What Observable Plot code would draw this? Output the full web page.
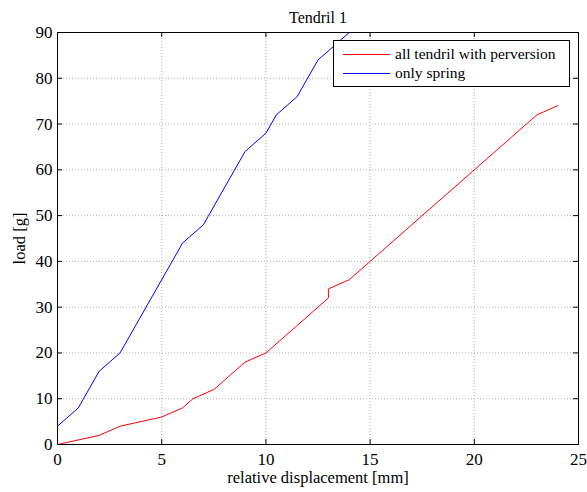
<!DOCTYPE html>
<html>
<head>
<meta charset="utf-8">
<script src="https://cdn.jsdelivr.net/npm/d3@7"></script>
<script src="https://cdn.jsdelivr.net/npm/@observablehq/plot@0.6"></script>
<style>
  html, body { margin: 0; padding: 0; background: #fff; }
  #wrap { position: relative; width: 587px; height: 492px; font-family: 'Liberation Serif', 'DejaVu Serif', serif; }
  #chart svg, #chart svg text { font-family: 'Liberation Serif', 'DejaVu Serif', serif !important; }
  #legend { position: absolute; left: 333px; top: 40px; width: 235px; height: 45px; background: #fff; border: 1px solid #000; font-family: 'Liberation Serif', 'DejaVu Serif', serif; font-size: 15.5px; }
  .sw { position: absolute; left: 9px; width: 47px; height: 1px; }
  .lt { position: absolute; left: 61px; line-height: 18px; white-space: nowrap; }
</style>
</head>
<body>
<div id="wrap">
  <div id="chart"></div>
  <div id="legend"></div>
</div>
<script>
const title = "Tendril 1";
const xLabel = "relative displacement [mm]";
const yLabel = "load [g]";
const seriesNames = ["all tendril with perversion", "only spring"];
const seriesColors = ["#ff0000", "#0000ff"];

const pervX = [0, 2, 3, 5, 6, 6.5, 7.5, 9, 10, 13, 13, 14, 23, 24];
const pervY = [0, 2, 4, 6, 8, 10, 12, 18, 20, 32, 34, 36, 72, 74];
const springX = [0, 1, 2, 3, 6, 7, 9, 10, 10.5, 11.5, 12.5, 13.5, 14];
const springY = [4, 8, 16, 20, 44, 48, 64, 68, 72, 76, 84, 88, 90];

const xTicks = [0, 5, 10, 15, 20, 25];
const yTicks = [0, 10, 20, 30, 40, 50, 60, 70, 80, 90];

const pervData = pervX.map((x, i) => ({x, y: pervY[i]}));
const springData = springX.map((x, i) => ({x, y: springY[i]}));

const W = 587, H = 492, mL = 57, mR = 9, mT = 32, mB = 48;
const innerH = H - mT - mB, innerW = W - mL - mR;
const tk = 5;
const FF = "Liberation Serif";

const chart = Plot.plot({
  width: W, height: H,
  marginLeft: mL, marginRight: mR, marginTop: mT, marginBottom: mB,
  style: { fontFamily: "'Liberation Serif', serif", fontSize: "16px", color: "#000", background: "#fff" },
  x: { domain: [0, 25], ticks: xTicks },
  y: { domain: [0, 90], ticks: yTicks },
  marks: [
    Plot.gridX(xTicks, { stroke: "#b0b0b0", strokeOpacity: 1, strokeDasharray: "1,2" }),
    Plot.gridY(yTicks, { stroke: "#b0b0b0", strokeOpacity: 1, strokeDasharray: "1,2" }),
    Plot.tickX(xTicks, { x: d => d, insetTop: innerH - tk, stroke: "#000" }),
    Plot.tickX(xTicks, { x: d => d, insetBottom: innerH - tk, stroke: "#000" }),
    Plot.tickY(yTicks, { y: d => d, insetRight: innerW - tk, stroke: "#000" }),
    Plot.tickY(yTicks, { y: d => d, insetLeft: innerW - tk, stroke: "#000" }),
    Plot.axisX(xTicks, { tickSize: 0, tickPadding: 8, fontSize: 17, fontFamily: FF, label: null }),
    Plot.axisX({ tickSize: 0, ticks: [], label: xLabel, labelAnchor: "center", labelArrow: "none", labelOffset: 38, fontSize: 16.5, fontFamily: FF }),
    Plot.axisY(yTicks, { tickSize: 0, tickPadding: 5, fontSize: 17, fontFamily: FF, label: null }),
    Plot.axisY({ tickSize: 0, ticks: [], label: yLabel, labelAnchor: "center", labelArrow: "none", labelOffset: 44, fontSize: 16.5, fontFamily: FF }),
    Plot.line(pervData, { x: "x", y: "y", stroke: seriesColors[0], strokeWidth: 1, clip: true }),
    Plot.line(springData, { x: "x", y: "y", stroke: seriesColors[1], strokeWidth: 1, clip: true }),
    Plot.frame({ stroke: "#000", strokeWidth: 1 }),
    Plot.text([title], { frameAnchor: "top", dy: -21, text: d => d, fontSize: 16, fontFamily: FF })
  ]
});
document.getElementById("chart").appendChild(chart);

const legend = document.getElementById("legend");
seriesNames.forEach((name, i) => {
  const sw = document.createElement("div");
  sw.className = "sw";
  sw.style.top = (13 + i * 19) + "px";
  sw.style.background = seriesColors[i];
  const t = document.createElement("div");
  t.className = "lt";
  t.style.top = (4 + i * 19) + "px";
  t.textContent = name;
  legend.appendChild(sw);
  legend.appendChild(t);
});
</script>
</body>
</html>
